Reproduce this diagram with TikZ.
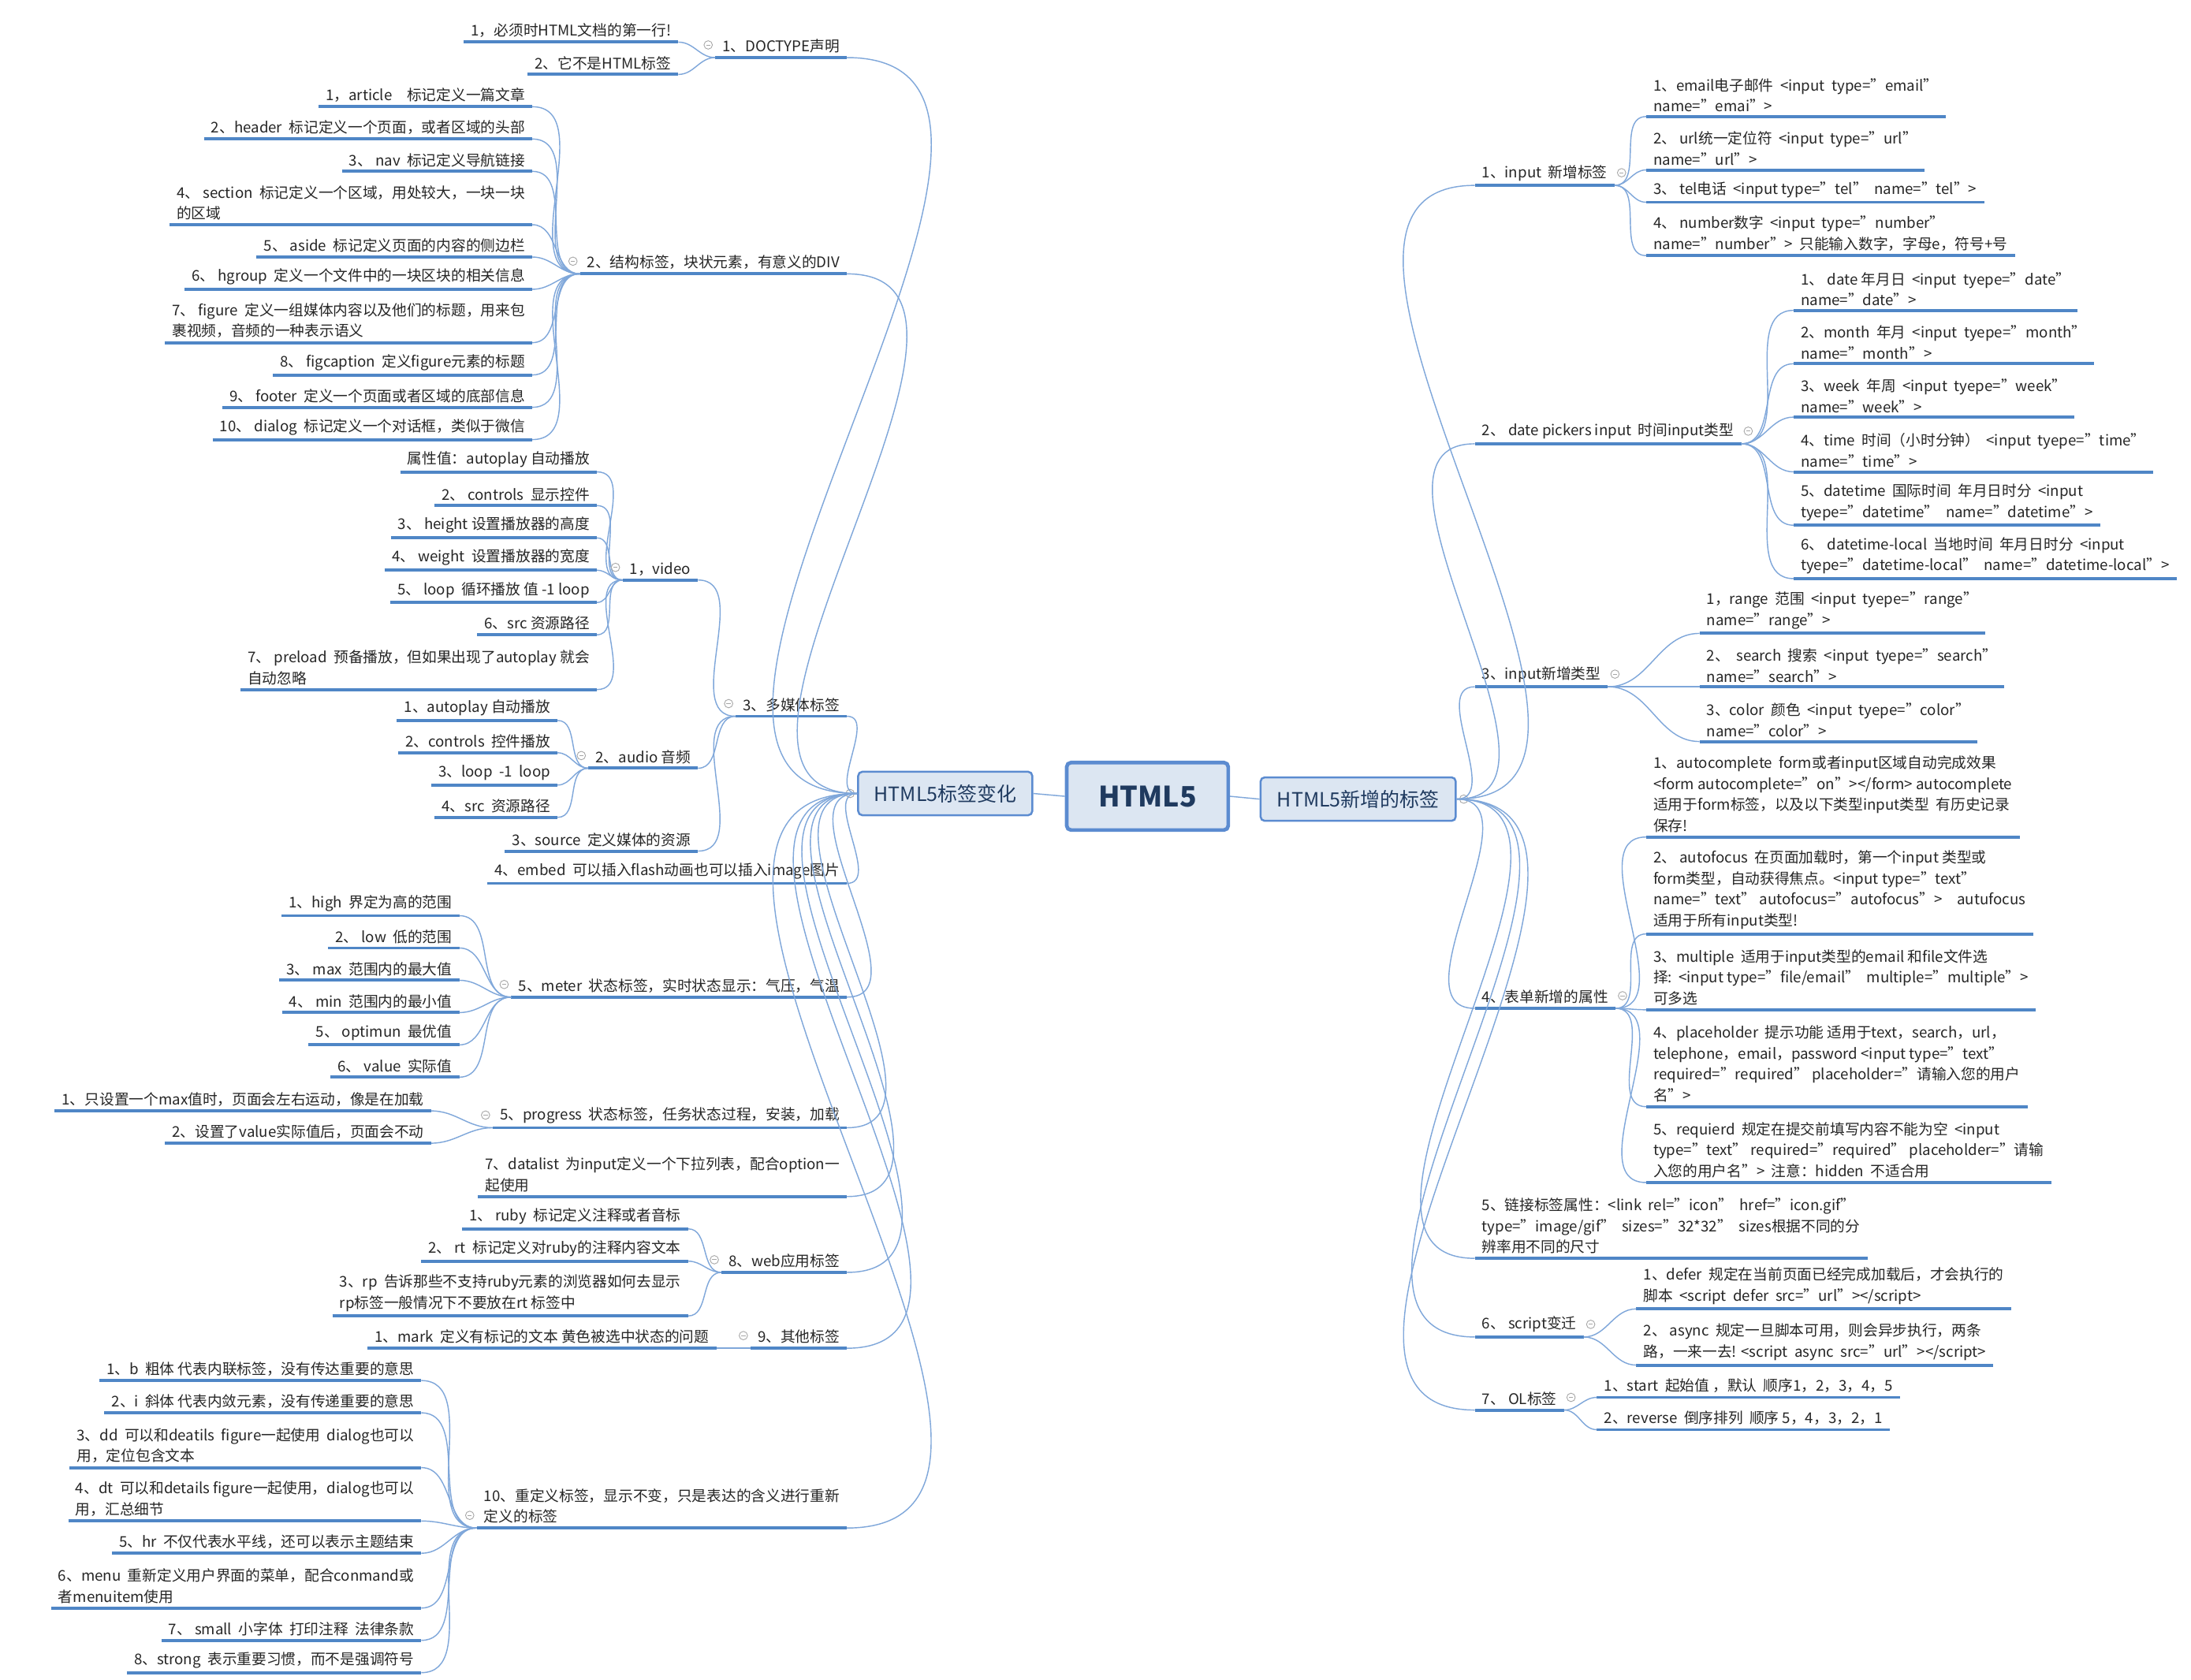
\documentclass[tikz,border=0pt]{standalone}
\usepackage{fontspec}
\setmainfont{Noto Sans CJK SC}
\usetikzlibrary{calc}
\definecolor{ulc}{HTML}{4F86C6}
\definecolor{cnc}{HTML}{7FA7DA}
\definecolor{boxf}{HTML}{DCE6F2}
\definecolor{boxd}{HTML}{5B8BD0}
\definecolor{boxt}{HTML}{1F3A5F}
\tikzset{
 txt/.style={font=\fontsize{10.5}{15}\selectfont,align=left,inner xsep=5pt,inner ysep=3pt,text=black!85},
 ul/.style={draw=ulc,line width=2.2pt},
 cn/.style={draw=cnc,line width=0.8pt},
 mk/.style={draw=gray!70,fill=white,line width=0.5pt},
 box/.style={draw=boxd,fill=boxf,rounded corners=3pt,line width=1.4pt,text=boxt,inner xsep=7pt},
}
\newcommand\LT[4]{\node[txt,anchor=south east] (#1) at (#2,#3) {#4};
 \draw[ul] (#1.south west) -- (#1.south east);
 \coordinate (#1-l) at (#1.south west); \coordinate (#1-r) at (#1.south east);}
\newcommand\RT[4]{\node[txt,anchor=south west] (#1) at (#2,#3) {#4};
 \draw[ul] (#1.south west) -- (#1.south east);
 \coordinate (#1-l) at (#1.south west); \coordinate (#1-r) at (#1.south east);}
\newcommand\mkL[1]{\draw[mk] ($(#1-l)+(-5,-9)$) circle (3); \draw[gray!70,line width=0.5pt] ($(#1-l)+(-6.5,-9)$) -- ($(#1-l)+(-3.5,-9)$);}
\newcommand\mkR[1]{\draw[mk] ($(#1-r)+(5,-9)$) circle (3); \draw[gray!70,line width=0.5pt] ($(#1-r)+(3.5,-9)$) -- ($(#1-r)+(6.5,-9)$);}
\newcommand\cL[2]{\draw[cn] (#1) to[out=180,in=0] (#2-r);}
\newcommand\cR[2]{\draw[cn] (#1) to[out=0,in=180] (#2-l);}
\begin{document}
\begin{tikzpicture}[x=1pt,y=-1pt]
\useasboundingbox[fill=white] (0,0) rectangle (1560,1196);
% central
\node[box,line width=2.6pt,minimum width=115,minimum height=48,font=\fontsize{20}{24}\selectfont\bfseries] (c) at (817,567) {HTML5};
\node[box,minimum width=124,minimum height=31,font=\fontsize{14}{16}\selectfont] (lh) at (673,565) {HTML5标签变化};
\node[box,minimum width=139,minimum height=31,font=\fontsize{14}{16}\selectfont] (rh) at (967,569) {HTML5新增的标签};
\draw[cn] (c.west) -- (lh.east);
\draw[cn] (c.east) -- (rh.west);
\draw[mk] ($(lh.west)+(-5,0)$) circle (3);
\draw[mk] ($(rh.east)+(5,0)$) circle (3);
% ===== LEFT =====
\LT{a1}{603}{41}{1、DOCTYPE声明}
\LT{a11}{483}{30}{1，必须时HTML文档的第一行!}
\LT{a12}{483}{53}{2、它不是HTML标签}
\LT{a2}{603}{195}{2、结构标签，块状元素，有意义的DIV}
\LT{a21}{379}{76}{1，article\quad 标记定义一篇文章}
\LT{a22}{379}{99}{2、header\ \ 标记定义一个页面，或者区域的头部}
\LT{a23}{379}{122}{3、 nav\ \ 标记定义导航链接}
\LT{a24}{379}{160}{4、 section\ \ 标记定义一个区域，用处较大，一块一块\\的区域}
\LT{a25}{379}{183}{5、 aside\ \ 标记定义页面的内容的侧边栏}
\LT{a26}{379}{206}{6、 hgroup\ \ 定义一个文件中的一块区块的相关信息}
\LT{a27}{379}{244}{7、 figure\ \ 定义一组媒体内容以及他们的标题，用来包\\裹视频，音频的一种表示语义}
\LT{a28}{379}{267}{8、 figcaption\ \ 定义figure元素的标题}
\LT{a29}{379}{290}{9、 footer\ \ 定义一个页面或者区域的底部信息}
\LT{a210}{379}{313}{10、 dialog\ \ 标记定义一个对话框，类似于微信}
\LT{a3}{603}{510}{3、多媒体标签}
\LT{a31}{497}{413}{1，video}
\LT{a311}{425}{336}{属性值：autoplay\ 自动播放}
\LT{a312}{425}{360}{2、 controls\ \ 显示控件}
\LT{a313}{425}{383}{3、\ height\ 设置播放器的高度}
\LT{a314}{425}{406}{4、 weight\ \ 设置播放器的宽度}
\LT{a315}{425}{429}{5、 loop\ \ 循环播放\ 值\ -1\ loop}
\LT{a316}{425}{452}{6、src\ 资源路径}
\LT{a317}{425}{491}{7、 preload\ \ 预备播放，但如果出现了autoplay 就会\\自动忽略}
\LT{a32}{497}{547}{2、audio\ 音频}
\LT{a321}{397}{513}{1、autoplay\ 自动播放}
\LT{a322}{397}{536}{2、controls\ \ 控件播放}
\LT{a323}{397}{559}{3、loop\ \ -1\ \ loop}
\LT{a324}{397}{582}{4、src\ \ 资源路径}
\LT{a33}{497}{606}{3、source\ \ 定义媒体的资源}
\LT{a4}{603}{629}{4、embed\ \ 可以插入flash动画也可以插入image图片}
\LT{a5}{603}{710}{5、meter\ \ 状态标签，实时状态显示：气压，气温}
\LT{a51}{327}{652}{1、high\ \ 界定为高的范围}
\LT{a52}{327}{675}{2、 low\ \ 低的范围}
\LT{a53}{327}{698}{3、 max\ \ 范围内的最大值}
\LT{a54}{327}{721}{4、 min\ \ 范围内的最小值}
\LT{a55}{327}{744}{5、 optimun\ \ 最优值}
\LT{a56}{327}{767}{6、 value\ \ 实际值}
\LT{a6}{603}{803}{5、progress\ \ 状态标签，任务状态过程，安装，加载}
\LT{a61}{307}{791}{1、只设置一个max值时，页面会左右运动，像是在加载}
\LT{a62}{307}{814}{2、设置了value实际值后，页面会不动}
\LT{a7}{603}{852}{7、datalist\ \ 为input定义一个下拉列表，配合option一\\起使用}
\LT{a8}{603}{906}{8、web应用标签}
\LT{a81}{490}{875}{1、 ruby\ \ 标记定义注释或者音标}
\LT{a82}{490}{898}{2、 rt\ \ 标记定义对ruby的注释内容文本}
\LT{a83}{490}{937}{3、rp\ \ 告诉那些不支持ruby元素的浏览器如何去显示\\rp标签一般情况下不要放在rt 标签中}
\LT{a9}{603}{960}{9、其他标签}
\LT{a91}{510}{960}{1、mark\ \ 定义有标记的文本 黄色被选中状态的问题}
\LT{a10}{603}{1088}{10、重定义标签，显示不变，只是表达的含义进行重新\\定义的标签}
\LT{a101}{300}{983}{1、b\ \ 粗体 代表内联标签，没有传达重要的意思}
\LT{a102}{300}{1006}{2、i\ \ 斜体 代表内敛元素，没有传递重要的意思}
\LT{a103}{300}{1045}{3、dd\ \ 可以和deatils\ \ figure一起使用\ \ dialog也可以\\用，定位包含文本}
\LT{a104}{300}{1083}{4、dt\ \ 可以和details figure一起使用，dialog也可以\\用，汇总细节}
\LT{a105}{300}{1106}{5、hr\ \ 不仅代表水平线，还可以表示主题结束}
\LT{a106}{300}{1145}{6、menu\ \ 重新定义用户界面的菜单，配合conmand或\\者menuitem使用}
\LT{a107}{300}{1168}{7、 small\ \ 小字体\ \ 打印注释\ \ 法律条款}
\LT{a108}{300}{1191}{8、strong\ \ 表示重要习惯，而不是强调符号}
% left connectors
\foreach \n in {a1,a2,a3,a4,a5,a6,a7,a8,a9,a10} {\cL{lh.west}{\n}}
\foreach \n in {a11,a12} {\cL{a1-l}{\n}}
\foreach \n in {a21,a22,a23,a24,a25,a26,a27,a28,a29,a210} {\cL{a2-l}{\n}}
\foreach \n in {a31,a32,a33} {\cL{a3-l}{\n}}
\foreach \n in {a311,a312,a313,a314,a315,a316,a317} {\cL{a31-l}{\n}}
\foreach \n in {a321,a322,a323,a324} {\cL{a32-l}{\n}}
\foreach \n in {a51,a52,a53,a54,a55,a56} {\cL{a5-l}{\n}}
\foreach \n in {a61,a62} {\cL{a6-l}{\n}}
\foreach \n in {a81,a82,a83} {\cL{a8-l}{\n}}
\cL{a9-l}{a91}
\foreach \n in {a101,a102,a103,a104,a105,a106,a107,a108} {\cL{a10-l}{\n}}
\foreach \n in {a1,a2,a3,a31,a32,a5,a6,a8,a9,a10} {\mkL{\n}}
% ===== RIGHT =====
\RT{b1}{1050}{132}{1、input\ \ 新增标签}
\RT{b11}{1172}{83}{1、email电子邮件\ \ <input\ \ type="email"\\name="emai">}
\RT{b12}{1172}{121}{2、 url统一定位符\ \ <input\ \ type="url"\\name="url">}
\RT{b13}{1172}{144}{3、 tel电话\ \ <input type="tel"\ \ name="tel">}
\RT{b14}{1172}{182}{4、 number数字\ \ <input\ \ type="number"\\name="number">\ \ 只能输入数字，字母e，符号+号}
\RT{b2}{1050}{316}{2、 date pickers input\ \ 时间input类型}
\RT{b21}{1277}{221}{1、 date 年月日\ \ <input\ \ tyepe="date"\\name="date">}
\RT{b22}{1277}{259}{2、month\ \ 年月\ \ <input\ \ tyepe="month"\\name="month">}
\RT{b23}{1277}{297}{3、week\ \ 年周\ \ <input\ \ tyepe="week"\\name="week">}
\RT{b24}{1277}{336}{4、time\ \ 时间（小时分钟）\ \ <input\ \ tyepe="time"\\name="time">}
\RT{b25}{1277}{374}{5、datetime\ \ 国际时间\ \ 年月日时分\ \ <input\\tyepe="datetime"\ \ name="datetime">}
\RT{b26}{1277}{412}{6、 datetime-local\ \ 当地时间\ \ 年月日时分\ \ <input\\tyepe="datetime-local"\ \ name="datetime-local">}
\RT{b3}{1050}{489}{3、input新增类型}
\RT{b31}{1210}{451}{1，range\ \ 范围\ \ <input\ \ tyepe="range"\\name="range">}
\RT{b32}{1210}{489}{2、\ \ search\ \ 搜索\ \ <input\ \ tyepe="search"\\name="search">}
\RT{b33}{1210}{528}{3、color\ \ 颜色\ \ <input\ \ tyepe="color"\\name="color">}
\RT{b4}{1050}{718}{4、表单新增的属性}
\RT{b41}{1172}{596}{1、autocomplete\ \ form或者input区域自动完成效果\\<form autocomplete="on"></form> autocomplete\\适用于form标签，以及以下类型input类型\ \ 有历史记录\\保存!}
\RT{b42}{1172}{665}{2、 autofocus\ \ 在页面加载时，第一个input 类型或\\form类型，自动获得焦点。<input type="text"\\name="text" autofocus="autofocus">\quad autufocus\\适用于所有input类型!}
\RT{b43}{1172}{719}{3、multiple\ \ 适用于input类型的email 和file文件选\\择:\ \ <input type="file/email"\ \ multiple="multiple">\\可多选}
\RT{b44}{1172}{788}{4、placeholder\ \ 提示功能 适用于text，search，url，\\telephone，email，password <input type="text"\\required="required" placeholder="请输入您的用户\\名">}
\RT{b45}{1172}{842}{5、requierd\ \ 规定在提交前填写内容不能为空\ \ <input\\type="text" required="required" placeholder="请输\\入您的用户名">\ \ 注意：hidden\ \ 不适合用}
\RT{b5}{1050}{896}{5、链接标签属性：<link\ \ rel="icon"\ \ href="icon.gif"\\type="image/gif"\ \ sizes="32*32"\ \ sizes根据不同的分\\辨率用不同的尺寸}
\RT{b6}{1050}{952}{6、 script变迁}
\RT{b61}{1165}{932}{1、defer\ \ 规定在当前页面已经完成加载后，才会执行的\\脚本\ \ <script\ \ defer\ \ src="url"></script>}
\RT{b62}{1165}{972}{2、 async\ \ 规定一旦脚本可用，则会异步执行，两条\\路，一来一去! <script\ \ async\ \ src="url"></script>}
\RT{b7}{1050}{1004}{7、 OL标签}
\RT{b71}{1137}{995}{1、start\ \ 起始值 ，默认\ \ 顺序1，2，3，4，5}
\RT{b72}{1137}{1018}{2、reverse\ \ 倒序排列\ \ 顺序 5，4，3，2，1}
% right connectors
\foreach \n in {b1,b2,b3,b4,b5,b6,b7} {\cR{rh.east}{\n}}
\foreach \n in {b11,b12,b13,b14} {\cR{b1-r}{\n}}
\foreach \n in {b21,b22,b23,b24,b25,b26} {\cR{b2-r}{\n}}
\foreach \n in {b31,b32,b33} {\cR{b3-r}{\n}}
\foreach \n in {b41,b42,b43,b44,b45} {\cR{b4-r}{\n}}
\foreach \n in {b61,b62} {\cR{b6-r}{\n}}
\foreach \n in {b71,b72} {\cR{b7-r}{\n}}
\foreach \n in {b1,b2,b3,b4,b6,b7} {\mkR{\n}}
\end{tikzpicture}
\end{document}
